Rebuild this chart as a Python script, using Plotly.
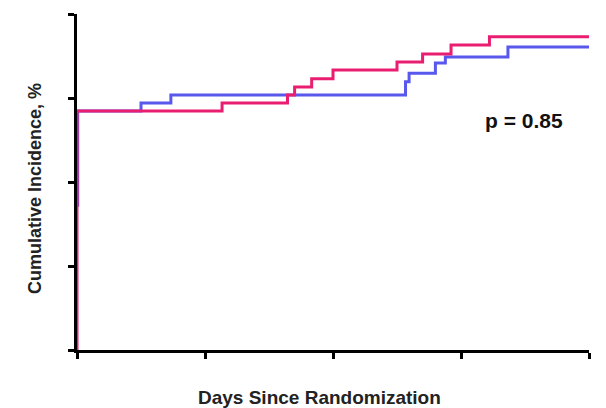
import plotly.graph_objects as go

# Data (days since randomization, cumulative incidence %)
pink_days = [0, 0, 102, 148, 153, 165, 180, 225, 243, 263, 290, 360]
pink_inc = [0, 71.1, 73.5, 75.9, 78.3, 80.7, 83.3, 85.7, 88.1, 90.8, 93.2, 93.2]

blue_days = [0.5, 0.5, 45, 66, 231, 233.5, 252, 259, 303, 360]
blue_inc = [42.6, 71.1, 73.5, 75.9, 79.8, 82.4, 85.4, 87.2, 90.2, 90.2]

x_ticks = [0, 90, 180, 270, 360]
y_ticks = [0, 25, 50, 75, 100]

PINK = "rgb(234,30,112)"
BLUE = "rgb(88,88,236)"
FONT = "Liberation Sans, Arial, sans-serif"

fig = go.Figure()
fig.add_trace(go.Scatter(x=blue_days, y=blue_inc, mode="lines",
                         line=dict(color=BLUE, width=3, shape="hv"),
                         showlegend=False, hoverinfo="skip"))
fig.add_trace(go.Scatter(x=pink_days, y=pink_inc, mode="lines",
                         line=dict(color=PINK, width=3, shape="hv"),
                         showlegend=False, hoverinfo="skip"))

axis_common = dict(showgrid=False, zeroline=False, showline=True,
                   linecolor="black", linewidth=2.5, ticks="outside",
                   ticklen=6, tickwidth=2.5, tickcolor="black",
                   showticklabels=False)

fig.update_xaxes(range=[0, 360], tickvals=x_ticks, **axis_common)
fig.update_yaxes(range=[0, 100], tickvals=y_ticks, **axis_common)

fig.add_annotation(text="<b>Cumulative Incidence, %</b>", xref="paper", yref="paper",
                   x=-0.082, y=0.479, textangle=-90, showarrow=False,
                   xanchor="center", yanchor="middle",
                   font=dict(family=FONT, size=18, color="#222"))
fig.add_annotation(text="<b>Days Since Randomization</b>", xref="paper", yref="paper",
                   x=0.4746, y=-0.14, showarrow=False,
                   xanchor="center", yanchor="middle",
                   font=dict(family=FONT, size=19, color="#222"))
fig.add_annotation(text="<b>p = 0.85</b>", xref="paper", yref="paper",
                   x=0.874, y=0.6845, showarrow=False,
                   xanchor="center", yanchor="middle",
                   font=dict(family=FONT, size=21, color="#111"))

fig.update_layout(width=606, height=408,
                  margin=dict(l=77, r=17, t=14, b=58),
                  plot_bgcolor="white", paper_bgcolor="white")

fig.write_html("out.html")
